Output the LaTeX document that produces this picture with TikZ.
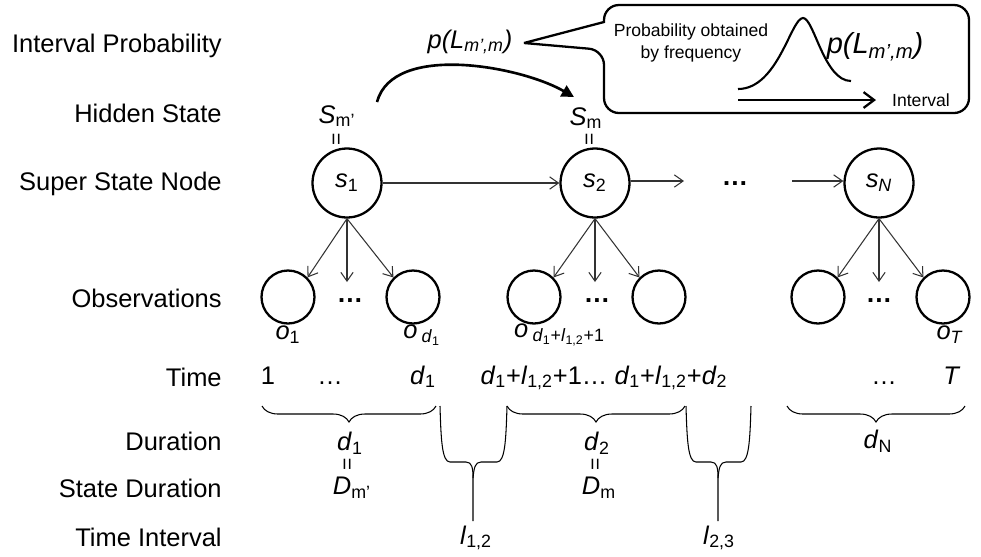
\documentclass[tikz,border=0pt]{standalone}
\usepackage{fontspec}
\setmainfont{Liberation Sans}
\usepackage{tikz}
\usetikzlibrary{arrows.meta, decorations.pathreplacing}

\newcommand{\vv}[1]{\textit{#1}}
\newcommand{\sbs}[1]{\textsubscript{#1}}

\tikzset{
  rowlabel/.style={anchor=east, inner sep=0pt, font=\fontsize{14.5}{17}\selectfont},
  lbl/.style={inner sep=1pt, font=\fontsize{14.5}{17}\selectfont},
  tlbl/.style={lbl, anchor=base},
  dotlbl/.style={anchor=base, inner sep=1pt, font=\fontsize{15}{17}\selectfont\bfseries},
  small/.style={inner sep=1pt, font=\fontsize{10}{12.5}\selectfont},
  supernode/.style={circle, draw, line width=1.3pt, minimum size=1.38cm, inner sep=0pt,
    font=\fontsize{14.5}{17}\selectfont},
  obsnode/.style={circle, draw, line width=1.3pt, minimum size=1.06cm, inner sep=0pt},
  edge/.style={line width=0.6pt, black!80, -{Straight Barb[length=5pt,width=7pt]}},
  eqv/.style={rotate=90, inner sep=0pt, font=\fontsize{12}{12}\selectfont},
  brc/.style={line width=0.6pt},
  hbrc/.style={brc, decorate, decoration={brace, mirror, amplitude=0.32cm}},
}

\begin{document}
\begin{tikzpicture}[x=0.02cm, y=-0.02cm]
\useasboundingbox (0,0) rectangle (981,556);

% row labels
\node[rowlabel] (rIP) at (222,46) {Interval Probability};
\node[rowlabel] (rHS) at (222,113) {Hidden State};
\node[rowlabel] (rSS) at (222,184) {Super State Node};
\node[rowlabel] (rOB) at (222,298) {Observations};
\node[rowlabel] (rTM) at (222,377) {Time};
\node[rowlabel] (rDU) at (222,441) {Duration};
\node[rowlabel] (rSD) at (222,488) {State Duration};
\node[rowlabel] (rTI) at (222,537) {Time Interval};

% super state nodes
\node[supernode] (s1) at (347,183) {\vv{s}\sbs{1}};
\node[supernode] (s2) at (595,183) {\vv{s}\sbs{2}};
\node[supernode] (sN) at (879,183) {\vv{s}\sbs{\vv{N}}};
\node[dotlbl] (topdots) at (735,185) {\dots};
\coordinate (a2) at (684,181);
\coordinate (aN) at (792,181);

\draw[edge] (s1) -- (s2);
\draw[edge] (s2.east |- a2) -- (a2);
\draw[edge] (aN) -- (sN.west |- aN);

% hidden states
\node[lbl] (sm1) at (337,116) {\vv{S}\sbs{m'}};
\node[eqv] (e1) at (338,139) {=};
\node[lbl] (sm2) at (586,118) {\vv{S}\sbs{m}};
\node[eqv] (e2) at (591,139) {=};

\coordinate (arcA) at (377,102);
\coordinate (arcB) at (574,97);
\draw[line width=1.5pt, -{Triangle[length=7pt,width=7pt]}]
  (arcA) to[out=75, in=150, looseness=0.8] (arcB);

% interval probability and callout
\node[lbl] (pl) at (470,42) {\vv{p(L\sbs{m',m})}};
\coordinate (ptip) at (524,43);
\draw[line width=1.3pt] (ptip) -- (604,22) [rounded corners=0.3cm] -- (604,5) -- (969,5)
  -- (969,113) -- (604,113) -- (604,50) [sharp corners] -- (ptip);

\node[small, align=center] (pof) at (691,43) {Probability obtained\\by frequency};
\coordinate (gA) at (738,89);
\coordinate (gP) at (803,18);
\coordinate (gB) at (851,81);
\draw[line width=1.2pt] (gA) .. controls (778,89) and (791,18) .. (gP)
  .. controls (814,18) and (824,81) .. (gB);
\node[lbl, font=\fontsize{16.5}{19}\selectfont] (pl2) at (875,47) {\vv{p(L\sbs{m',m})}};
\coordinate (ivA) at (738,100);
\coordinate (ivB) at (876,100);
\draw[line width=1.3pt, -{Straight Barb[length=6pt,width=9pt]}] (ivA) -- (ivB);
\node[small] (iv) at (921,100) {Interval};

% observations
\node[obsnode] (o11) at (288,297) {};
\node[obsnode] (o12) at (413,297) {};
\node[dotlbl] (od1) at (350,302) {\dots};
\node[obsnode] (o21) at (534,297) {};
\node[obsnode] (o22) at (659,297) {};
\node[dotlbl] (od2) at (597,302) {\dots};
\node[obsnode] (oN1) at (818,297) {};
\node[obsnode] (oN2) at (943,297) {};
\node[dotlbl] (odN) at (879,302) {\dots};
\coordinate (m1) at (347,282);
\coordinate (m2) at (595,282);
\coordinate (mN) at (879,282);

\draw[edge] (s1.south) -- (o11.north east);
\draw[edge] (s1.south) -- (m1);
\draw[edge] (s1.south) -- (o12.north west);
\draw[edge] (s2.south) -- (o21.north east);
\draw[edge] (s2.south) -- (m2);
\draw[edge] (s2.south) -- (o22.north west);
\draw[edge] (sN.south) -- (oN1.north east);
\draw[edge] (sN.south) -- (mN);
\draw[edge] (sN.south) -- (oN2.north west);

\node[lbl] (lo1) at (288,335) {\vv{o}\sbs{1}};
\node[lbl] (lod1) at (422,335) {\vv{o}\,\sbs{\vv{d}\sbs{1}}};
\node[lbl, anchor=west] (lod2) at (512,335) {\vv{o}\,\sbs{\vv{d}\sbs{1}+\vv{l}\sbs{1,2}+1}};
\node[lbl] (loT) at (950,335) {\vv{o}\sbs{\vv{T}}};

% time
\node[tlbl] (t1) at (268,384) {1};
\node[tlbl] (tdots1) at (330,384) {\dots};
\node[tlbl] (td1) at (423,384) {\vv{d}\sbs{1}};
\node[tlbl] (t2) at (604,384) {\vv{d}\sbs{1}+\vv{l}\sbs{1,2}+1\dots{} \vv{d}\sbs{1}+\vv{l}\sbs{1,2}+\vv{d}\sbs{2}};
\node[tlbl] (tdotsN) at (884,384) {\dots};
\node[tlbl] (tT) at (952,384) {\vv{T}};

% durations
\draw[hbrc] (262,406) -- (436,406);
\draw[hbrc] (507,406) -- (685,406);
\draw[hbrc] (787,406) -- (965,406);

\draw[brc] (440,406) .. controls (441,440) and (442,462) .. (450,462) -- (466,462)
  .. controls (472,462) and (473,468) .. (473,478) -- (473,521);
\draw[brc] (507,406) .. controls (506,440) and (505,462) .. (497,462) -- (481,462)
  .. controls (475,462) and (474,468) .. (473,478);
\draw[brc] (686,406) .. controls (687,440) and (688,462) .. (696,462) -- (711,462)
  .. controls (717,462) and (718,468) .. (718,478) -- (718,521);
\draw[brc] (751,406) .. controls (750,440) and (749,462) .. (741,462) -- (726,462)
  .. controls (720,462) and (719,468) .. (718,478);

\node[lbl] (du1) at (350,443) {\vv{d}\sbs{1}};
\node[eqv] (e3) at (349,464) {=};
\node[lbl] (D1) at (352,488) {\vv{D}\sbs{m'}};
\node[lbl] (du2) at (597,443) {\vv{d}\sbs{2}};
\node[eqv] (e4) at (597,464) {=};
\node[lbl] (D2) at (599,488) {\vv{D}\sbs{m}};
\node[lbl] (duN) at (878,441) {\vv{d}\sbs{N}};

\node[lbl] (l12) at (476,538) {\vv{l}\sbs{1,2}};
\node[lbl] (l23) at (719,538) {\vv{l}\sbs{2,3}};

\end{tikzpicture}
\end{document}
